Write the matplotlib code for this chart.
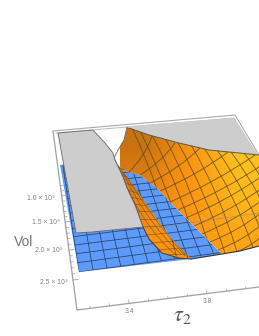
import numpy as np
import matplotlib
matplotlib.use("Agg")
import matplotlib.pyplot as plt
from matplotlib.patches import Polygon, PathPatch
from matplotlib.path import Path

plt.rcParams['font.family'] = ['Liberation Sans', 'DejaVu Sans']
plt.rcParams['mathtext.fontset'] = 'stix'

# ---- (pixel space of the projected 3D view) ----
vol_labels = ['1.0 × 10⁹', '1.5 × 10⁹', '2.0 × 10⁹', '2.5 × 10⁹']
vol_label_x = [55, 60, 63, 68]
vol_label_y = [199, 223, 251, 282]
vol_major_y = [196, 222, 250, 280]
tau_major = [3.4, 3.8]
tau_minor = [3.2, 3.3, 3.4, 3.5, 3.6, 3.7, 3.8, 3.9, 4.0, 4.1]
tau_ref = (3.4, 129.0, 3.8, 207.0)

box_top = [(53, 131), (235, 115), (259, 155)]
box_top2 = [(56, 133), (234, 118), (259, 158)]
box_left = [(53, 131), (77, 310)]
box_front = [(77, 310), (259, 287)]
box_back = [(147, 229), (259, 213)]

floor_outline = [(60, 165), (114, 160), (122, 170), (140, 175), (157, 188), (170, 202), (222, 254),
                 (191, 259), (79, 272)]
floor_corners = [(79, 272), (312, 240), (234, 118), (58, 133)]
floor_cells = (18, 20)

gray_left = [(58, 133), (93, 130), (105, 143), (113, 153), (115, 160), (123, 177), (127, 188),
             (135, 205), (143, 227), (92, 232), (76, 233)]
gray_right = [(130, 126), (234, 118), (258, 155), (239, 153), (209, 150), (179, 143), (149, 135), (129, 128)]

upper_sheet = [(114, 158), (118, 150), (124, 140), (127, 127), (129, 128), (149, 135), (179, 143),
               (209, 150), (239, 153), (259, 155), (259, 246), (240, 251), (222, 254),
               (200, 232), (170, 202), (157, 188), (140, 175), (122, 170)]
wall_sheet = [(114, 158), (123, 177), (127, 188), (135, 205), (143, 227), (149, 239), (162, 253),
              (179, 258), (191, 259), (170, 237), (147, 205), (133, 185), (122, 170)]

fam1_top = [(132, 128), (140, 131), (152, 135), (165, 138), (177, 141), (191, 145),
            (204, 148), (217, 150), (231, 152), (244, 153)]
fam1_end = [(176, 255), (188, 258), (200, 258), (213, 260), (227, 260), (237, 252),
            (253, 248), (268, 248), (283, 248), (298, 248)]
fam2_start = [(129, 172), (140, 175), (150, 183), (160, 191), (170, 202), (178, 210),
              (186, 218), (194, 226), (202, 234), (210, 242), (218, 250), (226, 256)]
fam2_end = [(152, 136), (175, 143), (200, 148), (228, 152), (255, 155), (262, 165),
            (262, 176), (262, 188), (262, 200), (262, 212), (262, 224), (262, 236)]

wall_cross_l = [(118, 166), (122, 175), (125, 183), (128, 190), (131, 197), (134, 204), (137, 211),
                (140, 219), (143, 227), (147, 235), (152, 243), (158, 250), (166, 255)]
wall_cross_r = [(124, 170), (130, 178), (135, 186), (140, 194), (144, 200), (148, 206), (153, 212),
                (158, 219), (163, 226), (168, 233), (174, 241), (180, 248), (186, 254)]
wall_long = [((117, 164), (140, 225), (177, 256)), ((120, 167), (146, 222), (181, 254)),
             ((122, 170), (151, 217), (185, 256)), ((124, 172), (156, 217), (188, 258))]

surface_colors = np.array([[[200, 115, 15], [250, 150, 15], [255, 195, 30]],
                           [[235, 130, 15], [255, 150, 15], [255, 185, 25]],
                           [[255, 145, 15], [255, 150, 15], [255, 165, 20]]], dtype=float) / 255

BLUE = '#5c9bfb'
ORANGE_EDGE = '#5a4a28'
AX = '#a0a0a0'
TXT = '#808080'

fig = plt.figure(figsize=(2.59, 3.36), dpi=100)
ax = fig.add_axes([0, 0, 1, 1])
ax.set_xlim(0, 259)
ax.set_ylim(336, 0)
ax.axis('off')


def line(pts, **kw):
    a = np.array(pts, float)
    return ax.plot(a[:, 0], a[:, 1], solid_capstyle='round', **kw)[0]


# box behind
line(box_top, color='#aaaaaa', lw=0.8, zorder=1)
line(box_top2, color='#bbbbbb', lw=0.7, zorder=1)
line(box_left, color=AX, lw=0.9, zorder=1)
line(box_front, color=AX, lw=0.9, zorder=1)

# floor
fl = Polygon(floor_outline, closed=True, fc=BLUE, ec='none', zorder=2)
ax.add_patch(fl)
src = np.array([(0, 0), (1, 0), (1, 1), (0, 1)], float)
dst = np.array(floor_corners, float)
A = []
b = []
for (u, v), (x, y) in zip(src, dst):
    A.append([u, v, 1, 0, 0, 0, -u * x, -v * x]); b.append(x)
    A.append([0, 0, 0, u, v, 1, -u * y, -v * y]); b.append(y)
h = np.append(np.linalg.solve(np.array(A), np.array(b)), 1).reshape(3, 3)


def proj(u, v):
    p = h @ np.array([u, v, 1.0])
    return p[0] / p[2], p[1] / p[2]


nu, nv = floor_cells
for i in range(nu + 1):
    l = line([proj(i / nu, 0), proj(i / nu, 1)], color='#2f4670', lw=0.6, zorder=3)
    l.set_clip_path(fl)
for j in range(nv + 1):
    l = line([proj(0, j / nv), proj(1, j / nv)], color='#2f4670', lw=0.6, zorder=3)
    l.set_clip_path(fl)

# orange surface
verts = list(upper_sheet) + [upper_sheet[0]] + list(wall_sheet) + [wall_sheet[0]]
codes = ([Path.MOVETO] + [Path.LINETO] * (len(upper_sheet) - 1) + [Path.CLOSEPOLY]
         + [Path.MOVETO] + [Path.LINETO] * (len(wall_sheet) - 1) + [Path.CLOSEPOLY])
sheet_path = Path(verts, codes)
clip = PathPatch(sheet_path, fc='none', ec='none', transform=ax.transData)
ax.add_patch(clip)
im = ax.imshow(surface_colors, extent=(120, 262, 262, 125), interpolation='bilinear',
               aspect='auto', zorder=4)
im.set_clip_path(clip)
ax.set_xlim(0, 259)
ax.set_ylim(336, 0)


def curve(p0, c, p1, **kw):
    pa = PathPatch(Path([p0, c, p1], [Path.MOVETO, Path.CURVE3, Path.CURVE3]), fc='none', **kw)
    ax.add_patch(pa)
    pa.set_clip_path(clip)


for p, q in zip(fam1_top, fam1_end):
    c = ((p[0] + q[0]) / 2 + 6, (p[1] + q[1]) / 2 - 5)
    curve(p, c, q, ec=ORANGE_EDGE, lw=0.65, alpha=0.8, zorder=5)
for p, q in zip(fam2_start, fam2_end):
    c = ((p[0] + q[0]) / 2 + 4, (p[1] + q[1]) / 2 + 3)
    curve(p, c, q, ec=ORANGE_EDGE, lw=0.65, alpha=0.8, zorder=5)
for p, q in zip(wall_cross_l, wall_cross_r):
    l = line([p, q], color=ORANGE_EDGE, lw=0.5, alpha=0.7, zorder=5)
    l.set_clip_path(clip)
for p, c, q in wall_long:
    curve(p, c, q, ec=ORANGE_EDGE, lw=0.5, alpha=0.7, zorder=5)

# surface outline
line(wall_sheet[:9], color='#4a3a20', lw=0.7, zorder=6)
line(upper_sheet[:4], color='#666666', lw=0.6, zorder=6)
line(upper_sheet[4:10], color='#555555', lw=0.7, zorder=6)
line(upper_sheet[10:13] + [wall_sheet[8]], color='#333333', lw=0.8, zorder=6)
line(box_back, color='#8a8a80', lw=0.6, alpha=0.6, zorder=6)

# grey clipping planes
ax.add_patch(Polygon(gray_left, closed=True, fc='#cdcdcd', ec='#666666', lw=0.6, zorder=7))
ax.add_patch(Polygon(gray_right, closed=True, fc='#cdcdcd', ec='none', zorder=3.5))


# ticks: vol axis
def left_x(y):
    (x0, y0), (x1, y1) = box_left
    return x0 + (y - y0) * (x1 - x0) / (y1 - y0)


for k, y in enumerate(vol_major_y):
    x = left_x(y)
    ax.plot([x, x + 5], [y, y - 0.5], color=AX, lw=0.6, zorder=8)
    if k < len(vol_major_y) - 1:
        for f in (0.2, 0.4, 0.6, 0.8):
            ym = y + f * (vol_major_y[k + 1] - y)
            xm = left_x(ym)
            ax.plot([xm, xm + 2.5], [ym, ym - 0.3], color=AX, lw=0.5, zorder=8)
for f in (-0.4, -0.2):
    ym = vol_major_y[0] + f * 26
    ax.plot([left_x(ym), left_x(ym) + 2.5], [ym, ym - 0.3], color=AX, lw=0.5, zorder=8)
for s, x, y in zip(vol_labels, vol_label_x, vol_label_y):
    ax.text(x, y, s, ha='right', va='center', fontsize=4.9, color=TXT)


# ticks: tau axis
def tau_x(t):
    t0, x0, t1, x1 = tau_ref
    return x0 + (t - t0) * (x1 - x0) / (t1 - t0)


def front_y(x):
    (x0, y0), (x1, y1) = box_front
    return y0 + (x - x0) * (y1 - y0) / (x1 - x0)


for t in tau_minor:
    x = tau_x(t)
    size = 3.5 if t in tau_major else 2
    ax.plot([x, x - 0.3], [front_y(x), front_y(x) - size], color=AX, lw=0.5, zorder=8)
for t in tau_major:
    x = tau_x(t)
    ax.text(x, front_y(x) + 8, f'{t:.1f}', ha='center', va='center', fontsize=4.9, color=TXT)

ax.text(23.5, 242, 'Vol', ha='center', va='center', fontsize=10, color='#777777')
ax.text(182, 316, r'$\tau_2$', ha='center', va='center', fontsize=16, color='#555555')

fig.savefig('out.png', dpi=100)
